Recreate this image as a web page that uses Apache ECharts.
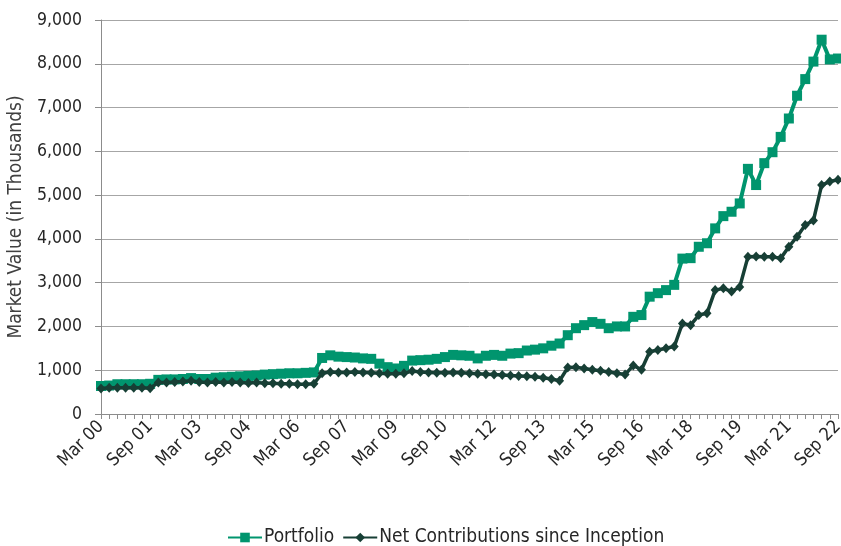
<!DOCTYPE html>
<html>
<head>
<meta charset="utf-8">
<script src="https://cdn.jsdelivr.net/npm/echarts@6/dist/echarts.min.js"></script>
<style>
html,body{margin:0;padding:0;background:#fff;}
#chart{width:841px;height:546px;}
</style>
</head>
<body>
<div id="chart"></div>
<script>
const tickLabels = ["Mar 00","Sep 01","Mar 03","Sep 04","Mar 06","Sep 07","Mar 09","Sep 10","Mar 12","Sep 13","Mar 15","Sep 16","Mar 18","Sep 19","Mar 21","Sep 22"];
const months = ["Mar","Jun","Sep","Dec"];
const categories = [];
for (let y = 0; y <= 22; y++) {
  for (let q = 0; q < 4; q++) {
    if (y === 22 && q > 2) break;
    categories.push(months[q] + " " + String(y).padStart(2, "0"));
  }
}
const portfolio = [
  640,650,680,680,680,680,690,780,790,790,
  800,820,800,800,830,840,850,860,870,880,
  900,910,920,930,930,940,950,1280,1340,1310,
  1300,1290,1270,1260,1150,1070,1040,1100,1220,1230,
  1240,1260,1300,1350,1340,1330,1270,1330,1350,1330,
  1380,1390,1450,1470,1500,1560,1610,1800,1960,2030,
  2100,2060,1960,2000,2000,2220,2260,2680,2760,2830,
  2950,3550,3560,3820,3900,4240,4520,4620,4810,5600,
  5230,5730,5980,6330,6750,7270,7650,8050,8550,8100,
  8120
];
const netContrib = [
  580,600,600,600,600,600,590,720,720,730,
  740,760,730,720,730,720,730,720,710,720,
  700,700,690,690,680,680,690,930,960,950,
  950,960,950,940,930,920,920,930,980,960,
  950,940,940,950,940,930,920,910,900,890,
  880,870,860,850,830,800,760,1060,1070,1040,
  1010,990,960,930,900,1110,1010,1420,1460,1500,
  1540,2070,2030,2260,2300,2830,2870,2800,2900,3590,
  3600,3590,3590,3555,3820,4050,4320,4420,5230,5310,
  5350
];
const seriesNames = ["Portfolio", "Net Contributions since Inception"];
const FONT = "'Liberation Sans Narrow', 'DejaVu Sans Condensed', 'Roboto', sans-serif";

const chart = echarts.init(document.getElementById('chart'), null, {renderer: 'canvas'});
chart.setOption({
  animation: false,
  backgroundColor: '#ffffff',
  grid: {left: 101, right: 3, top: 20, bottom: 132, containLabel: false, outerBoundsMode: 'none'},
  legend: {
    top: 523,
    left: 222,
    itemGap: 8,
    itemWidth: 34,
    itemHeight: 12,
    textStyle: {fontFamily: FONT, fontSize: 19, color: '#262626', padding: [0, 0, 0, -3]},
    data: seriesNames
  },
  xAxis: {
    type: 'category',
    data: categories,
    boundaryGap: false,
    axisLine: {lineStyle: {color: '#8c8c8c', width: 1}},
    axisTick: {show: true, interval: 0, length: 5, lineStyle: {color: '#8c8c8c'}},
    axisLabel: {
      interval: 5,
      rotate: 45,
      margin: 10,
      fontFamily: FONT,
      fontSize: 18,
      color: '#262626'
    },
    splitLine: {show: false}
  },
  yAxis: {
    type: 'value',
    min: 0,
    max: 9000,
    interval: 1000,
    name: 'Market Value (in Thousands)',
    nameLocation: 'middle',
    nameGap: 73,
    nameRotate: 90,
    nameTextStyle: {fontFamily: FONT, fontSize: 19, color: '#404040'},
    axisLine: {show: true, lineStyle: {color: '#8c8c8c', width: 1}},
    axisTick: {show: true, length: 6, lineStyle: {color: '#8c8c8c'}},
    axisLabel: {
      fontFamily: FONT,
      fontSize: 17.5,
      color: '#262626',
      margin: 19,
      formatter: v => v.toLocaleString('en-US')
    },
    splitLine: {show: true, lineStyle: {color: '#a6a6a6', width: 1}}
  },
  series: [
    {
      name: seriesNames[0],
      type: 'line',
      data: portfolio,
      showAllSymbol: true,
      symbol: 'rect',
      symbolSize: 10,
      lineStyle: {color: '#00956e', width: 4},
      itemStyle: {color: '#00956e'},
      z: 2
    },
    {
      name: seriesNames[1],
      type: 'line',
      data: netContrib,
      showAllSymbol: true,
      symbol: 'diamond',
      symbolSize: [9, 10],
      lineStyle: {color: '#173f35', width: 3.5},
      itemStyle: {color: '#173f35'},
      z: 3
    }
  ]
});
</script>
</body>
</html>
